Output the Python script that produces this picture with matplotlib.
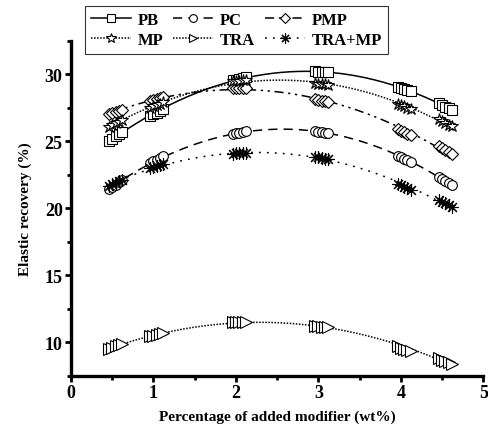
import matplotlib.pyplot as plt
from matplotlib.lines import Line2D
from matplotlib.ticker import MultipleLocator
import numpy as np

plt.rcParams['font.family'] = ['Liberation Serif', 'DejaVu Serif']
plt.rcParams['font.weight'] = 'bold'
plt.rcParams['axes.labelweight'] = 'bold'

# modifier content (wt%)
x = [0.5, 1, 2, 3, 4, 4.5]

# elastic recovery (%)
pb = [25.2, 27.0, 29.6, 30.2, 29.0, 27.7]
pc = [21.6, 23.5, 25.6, 25.7, 23.8, 22.2]
pmp = [27.1, 28.1, 29.0, 28.1, 25.8, 24.5]
mp = [26.2, 27.6, 29.5, 29.3, 27.7, 26.5]
tra = [9.6, 10.5, 11.5, 11.2, 9.6, 8.7]
tra_mp = [21.8, 23.1, 24.1, 23.8, 21.7, 20.5]

names = ['PB', 'PC', 'PMP', 'MP', 'TRA', 'TRA+MP']
series = [pb, pc, pmp, mp, tra, tra_mp]
markers = ['s', 'o', 'D', '*', '>', (8, 2, 0)]
msizes = [6.5, 7, 6, 9, 8, 9]
styles = ['-', (0, (6, 4)), (0, (6, 3, 1.5, 3, 1.5, 3)), (0, (1, 1)),
          (0, (1, 1)), (0, (1.2, 4))]

fig = plt.figure(figsize=(4.88, 4.31), dpi=100)
ax = fig.add_axes([0.1455, 0.126, 0.845, 0.777])

xx = np.linspace(x[0], x[-1] + 0.08, 200)
offs = np.array([-0.04, 0.0, 0.04, 0.08, 0.12])
for name, y, m, ms, ls in zip(names, series, markers, msizes, styles):
    c = np.polyfit(x, y, 2)
    ax.plot(xx, np.polyval(c, xx), color='black', lw=1.1, ls=ls, zorder=2)
    dc = np.polyder(c)
    # stacked marker copies, as drawn in the original
    for xi, yi in zip(x, y):
        s = np.polyval(dc, xi)
        ax.plot(xi + offs, yi + s * offs, ls='none', marker=m, ms=ms,
                mfc='white', mec='black', mew=0.8, zorder=3)

ax.set_xlim(0, 5)
ax.set_ylim(7.5, 32.5)
ax.xaxis.set_major_locator(MultipleLocator(1))
ax.xaxis.set_minor_locator(MultipleLocator(0.5))
ax.yaxis.set_major_locator(MultipleLocator(5))
ax.yaxis.set_minor_locator(MultipleLocator(2.5))
ax.set_yticks([10, 15, 20, 25, 30])
for sp in ['top', 'right']:
    ax.spines[sp].set_visible(False)
for sp in ['left', 'bottom']:
    ax.spines[sp].set_linewidth(2.4)
ax.tick_params(which='major', direction='out', length=4, width=2,
               labelsize=13, pad=2)
ax.tick_params(which='minor', direction='out', length=3, width=2)
for lab in ax.get_xticklabels() + ax.get_yticklabels():
    lab.set_fontweight('bold')

ax.set_xlabel('Percentage of added modifier (wt%)', fontsize=11, labelpad=6)
ax.set_ylabel('Elastic recovery (%)', fontsize=11, labelpad=9)

handles = []
for name, m, ms, ls in zip(names, markers, msizes, styles):
    handles.append(Line2D([], [], color='black', lw=1.1, ls=ls, marker=m,
                          ms=ms * 0.8, mfc='white', mec='black', mew=0.8,
                          label=name))
order = [0, 3, 1, 4, 2, 5]
leg = fig.legend([handles[i] for i in order], [names[i] for i in order],
                 ncol=3, loc='upper left', bbox_to_anchor=(0.174, 0.984),
                 borderaxespad=0, fontsize=12, frameon=True, fancybox=False,
                 borderpad=0.35, handlelength=2.4, handletextpad=0.4,
                 columnspacing=0.6, labelspacing=0.25)
leg.get_frame().set_edgecolor('black')
leg.get_frame().set_linewidth(0.8)
for t in leg.get_texts():
    t.set_fontweight('bold')

fig.savefig('out.png', dpi=100)
